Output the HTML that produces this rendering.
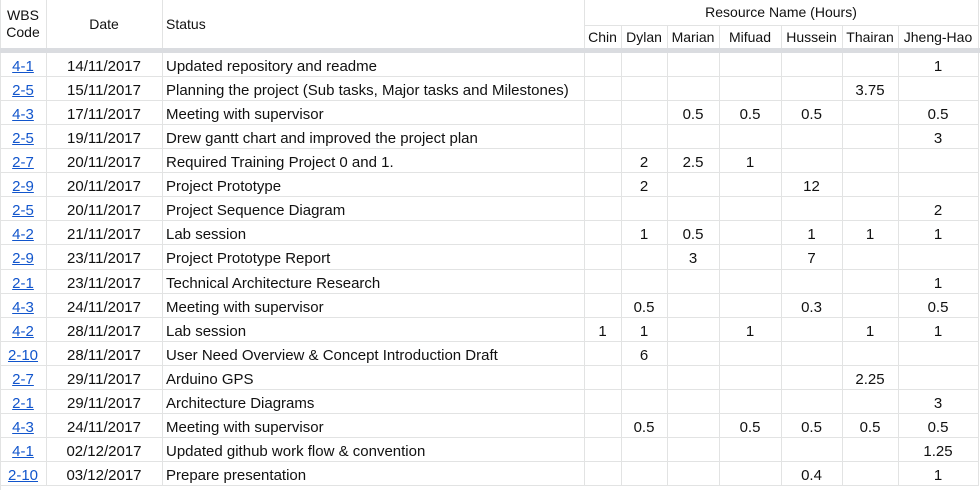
<!DOCTYPE html>
<html><head><meta charset="utf-8">
<style>
html,body{margin:0;padding:0;background:#fff;}
body{width:980px;height:489px;overflow:hidden;position:relative;font-family:"Liberation Sans",Arial,sans-serif;font-size:14px;color:#111;}
.c{position:absolute;box-sizing:border-box;border-right:1px solid #e2e3e3;border-bottom:1px solid #e2e3e3;white-space:nowrap;overflow:hidden;display:flex;align-items:center;}
.b{font-size:15px;padding-top:3px;}
.ctr{justify-content:center;}
.l{padding-left:4px;}
a{color:#1155cc;text-decoration:underline;}
</style></head>
<body>
<div id="grid"></div>
<script>
const cols=[0,46,162,584,621,667,719,781,842,898,978];
const people=["Chin","Dylan","Marian","Mifuad","Hussein","Thairan","Jheng-Hao"];
const codes=["4-1","2-5","4-3","2-5","2-7","2-9","2-5","4-2","2-9","2-1","4-3","4-2","2-10","2-7","2-1","4-3","4-1","2-10"];
const dates=["14/11/2017","15/11/2017","17/11/2017","19/11/2017","20/11/2017","20/11/2017","20/11/2017","21/11/2017","23/11/2017","23/11/2017","24/11/2017","28/11/2017","28/11/2017","29/11/2017","29/11/2017","24/11/2017","02/12/2017","03/12/2017"];
const statuses=["Updated repository and readme","Planning the project (Sub tasks, Major tasks and Milestones)","Meeting with supervisor","Drew gantt chart and improved the project plan","Required Training Project 0 and 1.","Project Prototype","Project Sequence Diagram","Lab session","Project Prototype Report","Technical Architecture Research","Meeting with supervisor","Lab session","User Need Overview & Concept Introduction Draft","Arduino GPS","Architecture Diagrams","Meeting with supervisor","Updated github work flow & convention","Prepare presentation"];
const hours=[
["","","","","","","1"],
["","","","","","3.75",""],
["","","0.5","0.5","0.5","","0.5"],
["","","","","","","3"],
["","2","2.5","1","","",""],
["","2","","","12","",""],
["","","","","","","2"],
["","1","0.5","","1","1","1"],
["","","3","","7","",""],
["","","","","","","1"],
["","0.5","","","0.3","","0.5"],
["1","1","","1","","1","1"],
["","6","","","","",""],
["","","","","","2.25",""],
["","","","","","","3"],
["","0.5","","0.5","0.5","0.5","0.5"],
["","","","","","","1.25"],
["","","","","0.4","","1"]];
const g=document.getElementById('grid');
function cell(x0,x1,y0,y1,txt,cls,name,inter){
  const d=document.createElement('div');
  d.className='c '+cls;
  d.style.left=x0+'px';d.style.width=(x1-x0+1)+'px';d.style.top=y0+'px';d.style.height=(y1-y0+1)+'px';
  d.innerHTML=txt;
  
  
  g.appendChild(d);return d;
}
const lb=cell(-1,0,-1,489,"","","left-border",false);
lb.style.borderRight='2px solid #e2e3e3';
cell(0,cols[1],-1,48,"<span style='text-align:center;line-height:17px'>WBS<br>Code</span>","ctr","wbs-code-header",false);
cell(cols[1],cols[2],-1,48,"Date","ctr","date-header",false);
cell(cols[2],cols[3],-1,48,"Status","l","status-header",false);
cell(cols[3],cols[10],-1,25,"Resource Name (Hours)","ctr","resource-name-header",false);
for(let i=0;i<people.length;i++)cell(cols[3+i],cols[4+i],25,48,people[i],"ctr","person-header-"+people[i].toLowerCase(),false);
const bar=document.createElement('div');
bar.style.cssText='position:absolute;left:0;top:48px;width:980px;height:5px;background:#dadce0';


g.appendChild(bar);
const top0=53,rh=24.06;
for(let r=0;r<codes.length;r++){
  const y0=Math.round(top0+r*rh),y1=Math.round(top0+(r+1)*rh)-1;
  cell(0,cols[1],y0,y1,"<a href='#'>"+codes[r]+"</a>","ctr b","wbs-link-"+(r+1),true);
  cell(cols[1],cols[2],y0,y1,dates[r],"ctr b","date-"+(r+1),false);
  cell(cols[2],cols[3],y0,y1,statuses[r].replace(/&/g,'&amp;'),"l b","status-"+(r+1),false);
  for(let p=0;p<people.length;p++)cell(cols[3+p],cols[4+p],y0,y1,hours[r][p],"ctr b","hours-"+(r+1)+"-"+people[p].toLowerCase(),false);
}
</script>
</body></html>
